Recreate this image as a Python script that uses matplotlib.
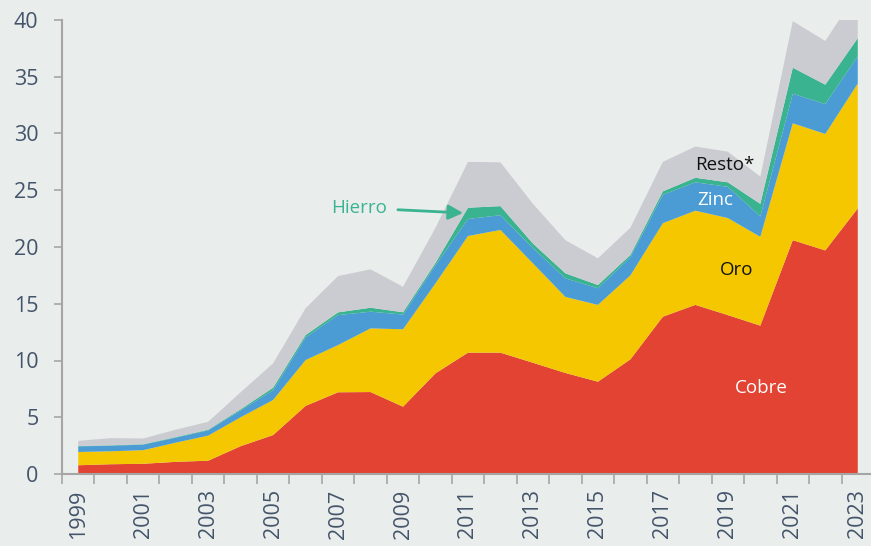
import matplotlib
matplotlib.use("Agg")
import matplotlib.pyplot as plt
import numpy as np

# ── Colores ───────────────────────────────────────────────
STYLE = {
    "bg":     "#E9EDEC",
    "cobre":  "#E24333",
    "oro":    "#F4C700",
    "zinc":   "#4B9BD5",
    "hierro": "#3AB391",
    "resto":  "#CBCCD1",
    "text":   "#44546A",
    "spine":  "#A5A5A5",
}

plt.rcParams.update({
    "font.family": ["Open Sans", "DejaVu Sans"],
    "figure.facecolor": STYLE["bg"],
    "axes.facecolor": STYLE["bg"],
})

# ── Datos ─────────────────────────────────────────────────
years = list(range(1999, 2024))
cobre = [0.77, 0.86, 0.90, 1.07, 1.17, 2.45, 3.43, 6.00, 7.20, 7.22,
         5.93, 8.87, 10.69, 10.69, 9.80, 8.90, 8.13, 10.10, 13.86, 14.90,
         14.00, 13.07, 20.60, 19.70, 23.40]
oro = [1.17, 1.14, 1.20, 1.69, 2.21, 2.55, 3.09, 4.04, 4.16, 5.61,
       6.82, 7.93, 10.28, 10.81, 8.76, 6.70, 6.77, 7.40, 8.24, 8.30,
       8.55, 7.83, 10.30, 10.26, 11.00]
zinc = [0.49, 0.50, 0.48, 0.44, 0.46, 0.60, 0.86, 2.00, 2.64, 1.47,
        1.30, 1.60, 1.50, 1.30, 1.34, 1.64, 1.46, 1.60, 2.50, 2.50,
        2.75, 1.80, 2.60, 2.64, 2.40]
hierro = [0.03, 0.03, 0.04, 0.05, 0.06, 0.10, 0.22, 0.20, 0.24, 0.35,
          0.20, 0.20, 0.99, 0.80, 0.40, 0.44, 0.29, 0.20, 0.30, 0.40,
          0.40, 1.10, 2.30, 1.70, 1.60]
resto = [0.46, 0.63, 0.51, 0.65, 0.70, 1.50, 2.15, 2.36, 3.20, 3.38,
         2.25, 3.10, 4.04, 3.86, 3.50, 2.92, 2.35, 2.40, 2.60, 2.75,
         2.70, 2.40, 4.10, 3.85, 4.10]

label_years = list(range(1999, 2024, 2))

# ── Figura ────────────────────────────────────────────────
fig = plt.figure(figsize=(8.71, 5.46), dpi=100)
ax = fig.add_axes([62 / 871, 72 / 546, 812 / 871, 454 / 546])

ax.stackplot(years, cobre, oro, zinc, hierro, resto,
             colors=[STYLE["cobre"], STYLE["oro"], STYLE["zinc"],
                     STYLE["hierro"], STYLE["resto"]],
             linewidth=0, zorder=2)

ax.set_xlim(1998.5, 2023.5)
ax.set_ylim(0, 40)

# Ejes
ax.set_yticks(np.arange(0, 41, 5))
ax.tick_params(axis="y", colors=STYLE["spine"], labelcolor=STYLE["text"],
               labelsize=15.5, length=6, width=1.2, pad=11)
ax.set_xticks(np.arange(1998.5, 2024, 1))
ax.set_xticklabels([])
ax.tick_params(axis="x", which="major", colors=STYLE["spine"],
               length=7, width=1.2)
ax.set_xticks(label_years, minor=True)
ax.set_xticklabels([str(y) for y in label_years], minor=True,
                   rotation=90, fontsize=15.5, color=STYLE["text"])
ax.tick_params(axis="x", which="minor", length=0, pad=11)

for side in ("top", "right"):
    ax.spines[side].set_visible(False)
for side in ("left", "bottom"):
    ax.spines[side].set_color(STYLE["spine"])
    ax.spines[side].set_linewidth(1.5)
ax.spines["bottom"].set_zorder(3)

# ── Etiquetas de series ───────────────────────────────────
ax.text(2018.9, 27.2, "Resto*", fontsize=13.5, color="#111111",
        ha="center", va="center", zorder=4)
ax.text(2018.62, 24.1, "Zinc", fontsize=13.5, color="white",
        ha="center", va="center", zorder=4)
ax.text(2019.27, 18.0, "Oro", fontsize=13.5, color="#111111",
        ha="center", va="center", zorder=4)
ax.text(2020.04, 7.6, "Cobre", fontsize=13.5, color="white",
        ha="center", va="center", zorder=4)

ax.annotate("Hierro", xy=(2010.85, 23.0), xytext=(2008.5, 23.45),
            fontsize=13.5, color=STYLE["hierro"], ha="right", va="center",
            arrowprops=dict(arrowstyle="-|>", color=STYLE["hierro"],
                            lw=2, mutation_scale=22, shrinkA=6, shrinkB=0),
            zorder=4)

fig.savefig("out.png", dpi=100, facecolor=STYLE["bg"])
